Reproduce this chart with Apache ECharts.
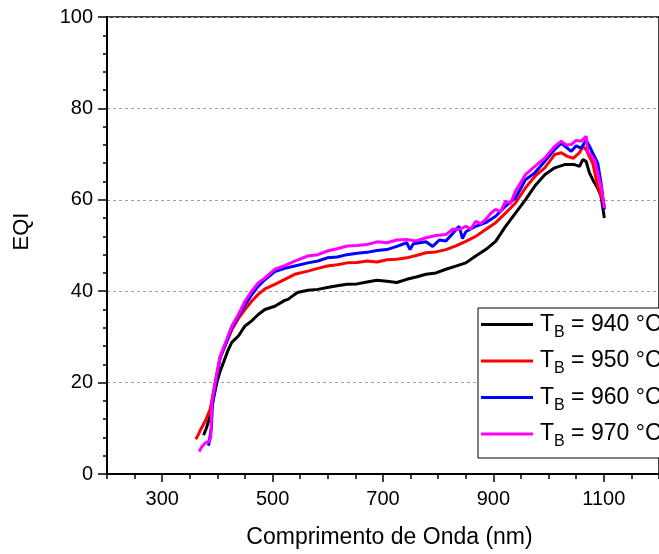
<!DOCTYPE html>
<html>
<head>
<meta charset="utf-8">
<script src="https://cdn.jsdelivr.net/npm/echarts@6/dist/echarts.min.js"></script>
<style>html,body{margin:0;padding:0;background:#fff;}#chart{width:659px;height:554px;}</style>
</head>
<body>
<div id="chart"></div>
<script>
// Temperatures (legend)
const temps = [940, 950, 960, 970];
const colors = ['#000000', '#ff0000', '#0000ff', '#ff00ff'];

// X tick labels
const xTickLabels = [300, 500, 700, 900, 1100];

// T_B = 940 °C
const wl940 = [375, 380, 385, 392, 399, 405, 411, 419, 426, 438, 450, 462, 474, 486, 504, 522, 528, 540, 545, 564, 582, 599, 617, 635, 653, 671, 689, 707, 725, 743, 760, 778, 796, 814, 832, 850, 868, 886, 904, 922, 940, 958, 975, 993, 1011, 1029, 1047, 1056, 1062, 1068, 1074, 1080, 1089, 1095, 1101];
const eqi940 = [8.5, 10, 12, 16, 20, 22.5, 24.4, 27, 28.8, 30.2, 32.4, 33.5, 34.9, 36.0, 36.7, 38.0, 38.2, 39.3, 39.7, 40.2, 40.4, 40.8, 41.2, 41.5, 41.6, 42.0, 42.4, 42.2, 41.9, 42.6, 43.1, 43.7, 44.0, 44.8, 45.5, 46.2, 47.7, 49.1, 50.9, 54.2, 57.1, 60, 63, 65.5, 67, 67.7, 67.7, 67.3, 68.8, 68.4, 65.9, 64.4, 62.5, 60.8, 56];

// T_B = 950 °C
const wl950 = [361, 365, 370, 378, 387, 396, 405, 417, 426, 438, 450, 462, 474, 486, 504, 522, 540, 564, 582, 599, 617, 635, 653, 671, 689, 707, 725, 743, 760, 778, 796, 814, 832, 850, 868, 886, 904, 922, 940, 958, 975, 993, 1011, 1023, 1034, 1045, 1056, 1062, 1068, 1080, 1089, 1101];
const eqi950 = [7.6, 8.5, 9.8, 11.6, 14.2, 20, 25.5, 29, 31.5, 34, 36, 37.8, 39.3, 40.5, 41.5, 42.6, 43.7, 44.4, 45.0, 45.5, 45.8, 46.2, 46.3, 46.6, 46.4, 46.9, 47.0, 47.3, 47.8, 48.4, 48.6, 49.1, 49.9, 50.9, 52.0, 53.5, 55, 57.1, 59.3, 62.6, 65.1, 67, 69.9, 70.3, 69.5, 69.1, 70.3, 71.7, 71.0, 68, 63, 58.6];

// T_B = 960 °C
const wl960 = [384, 387, 389, 391, 396, 405, 417, 426, 438, 450, 462, 474, 486, 504, 522, 540, 564, 582, 599, 617, 635, 653, 671, 689, 707, 725, 743, 749, 755, 778, 790, 802, 814, 826, 838, 844, 850, 868, 886, 904, 922, 940, 958, 975, 993, 1011, 1023, 1032, 1041, 1050, 1059, 1068, 1077, 1089, 1095, 1101];
const eqi960 = [6.2, 6.5, 10, 15, 19.5, 25.5, 29, 32, 34.5, 37, 39.2, 41.1, 42.5, 44.3, 45, 45.5, 46.2, 46.6, 47.3, 47.5, 48.0, 48.3, 48.5, 48.9, 49.1, 49.8, 50.6, 49.1, 50.4, 50.8, 49.8, 51.2, 51, 52.6, 54.2, 51.5, 53, 54.2, 55, 56.4, 58.6, 60.4, 64.4, 65.9, 68.4, 71.0, 72.4, 71.5, 70.6, 71.8, 71.3, 73.1, 71, 68, 63.7, 57.9];

// T_B = 970 °C
const wl970 = [367, 372, 379, 385, 388, 390, 396, 405, 417, 426, 438, 450, 462, 474, 486, 504, 522, 540, 564, 582, 599, 617, 635, 653, 671, 689, 707, 725, 743, 760, 778, 796, 814, 826, 838, 850, 859, 868, 877, 886, 895, 904, 913, 922, 931, 940, 958, 975, 993, 1011, 1023, 1032, 1041, 1050, 1059, 1068, 1071, 1083, 1089, 1095, 1101];
const eqi970 = [4.9, 6, 6.9, 7.1, 8, 15.7, 20, 25.8, 29.5, 32.4, 34.9, 37.8, 40, 41.8, 42.9, 44.8, 45.6, 46.6, 47.7, 48.0, 48.8, 49.3, 49.9, 50.0, 50.2, 50.8, 50.6, 51.2, 51.3, 51.0, 51.7, 52.2, 52.4, 53.6, 53.5, 54.2, 53.6, 55.3, 54.8, 55.7, 57.0, 57.9, 57.4, 59.7, 59.2, 61.9, 65.5, 67.3, 69.1, 71.7, 72.8, 72.0, 72.1, 73.0, 72.8, 73.9, 70.6, 68.8, 65.9, 63, 58.2];

const wls = [wl940, wl950, wl960, wl970];
const vals = [eqi940, eqi950, eqi960, eqi970];

const FONT = '"Liberation Sans", Arial, sans-serif';

const xTicks = [];
for (let v = 200; v <= 1200; v += 50) xTicks.push(v);

const series = temps.map((t, i) => ({
  name: 'TB = ' + t + ' °C',
  type: 'line',
  showSymbol: false,
  symbol: 'none',
  data: wls[i].map((w, k) => [w, vals[i][k]]),
  lineStyle: { color: colors[i], width: 3 },
  itemStyle: { color: colors[i] },
  z: 2 + i
}));

const chart = echarts.init(document.getElementById('chart'), null, { renderer: 'canvas' });
chart.setOption({
  backgroundColor: '#ffffff',
  animation: false,
  grid: {
    left: 107, top: 17, width: 559, height: 458,
    show: true, borderColor: '#000', borderWidth: 1.5, backgroundColor: 'transparent'
  },
  xAxis: {
    type: 'value',
    min: 200, max: 1200, interval: 200,
    name: 'Comprimento de Onda (nm)',
    nameLocation: 'middle',
    nameGap: 52,
    nameTextStyle: { fontFamily: FONT, fontSize: 23, color: '#000', padding: [0, 0, 0, 13] },
    axisLine: { show: true, onZero: false, lineStyle: { color: '#000', width: 2 } },
    axisTick: { show: true, customValues: xTicks, length: 5, inside: false, lineStyle: { color: '#000', width: 1.5 } },
    minorTick: { show: true, splitNumber: 2, length: 8, lineStyle: { color: '#000', width: 1.5 } },
    axisLabel: { customValues: xTickLabels, formatter: v => String(v), fontFamily: FONT, fontSize: 20, color: '#000', margin: 15 },
    splitLine: { show: false },
    minorSplitLine: { show: false }
  },
  yAxis: {
    type: 'value',
    min: 0, max: 100, interval: 20,
    name: 'EQI',
    nameLocation: 'middle',
    nameGap: 74,
    nameTextStyle: { fontFamily: FONT, fontSize: 22, color: '#000', padding: [0, 0, 0, 28] },
    axisLine: { show: true, lineStyle: { color: '#000', width: 2 } },
    axisTick: { show: true, length: 9, lineStyle: { color: '#000', width: 1.5 } },
    minorTick: { show: true, splitNumber: 5, length: 4, lineStyle: { color: '#000', width: 1.5 } },
    axisLabel: { fontFamily: FONT, fontSize: 20, color: '#000', margin: 14 },
    splitLine: { show: true, lineStyle: { color: '#a0a0a0', width: 1, type: [3, 3] } }
  },
  legend: {
    orient: 'vertical',
    left: 478, top: 308,
    icon: 'rect',
    itemWidth: 52, itemHeight: 3,
    itemGap: 9,
    padding: [5, 10, 8, 3],
    borderColor: '#000', borderWidth: 1,
    backgroundColor: '#fff',
    data: series.map(s => s.name),
    formatter: function (name) {
      const rest = name.slice(2);
      return '{t|T}{s|B}{m|' + rest + '}';
    },
    textStyle: {
      fontFamily: FONT, color: '#000',
      rich: {
        t: { fontFamily: FONT, fontSize: 23, lineHeight: 32, color: '#000', padding: [0, 0, 0, 2] },
        m: { fontFamily: FONT, fontSize: 23, lineHeight: 32, color: '#000' },
        s: { fontFamily: FONT, fontSize: 16, lineHeight: 16, verticalAlign: 'bottom', color: '#000' }
      }
    }
  },
  series: series
});
</script>
</body>
</html>
